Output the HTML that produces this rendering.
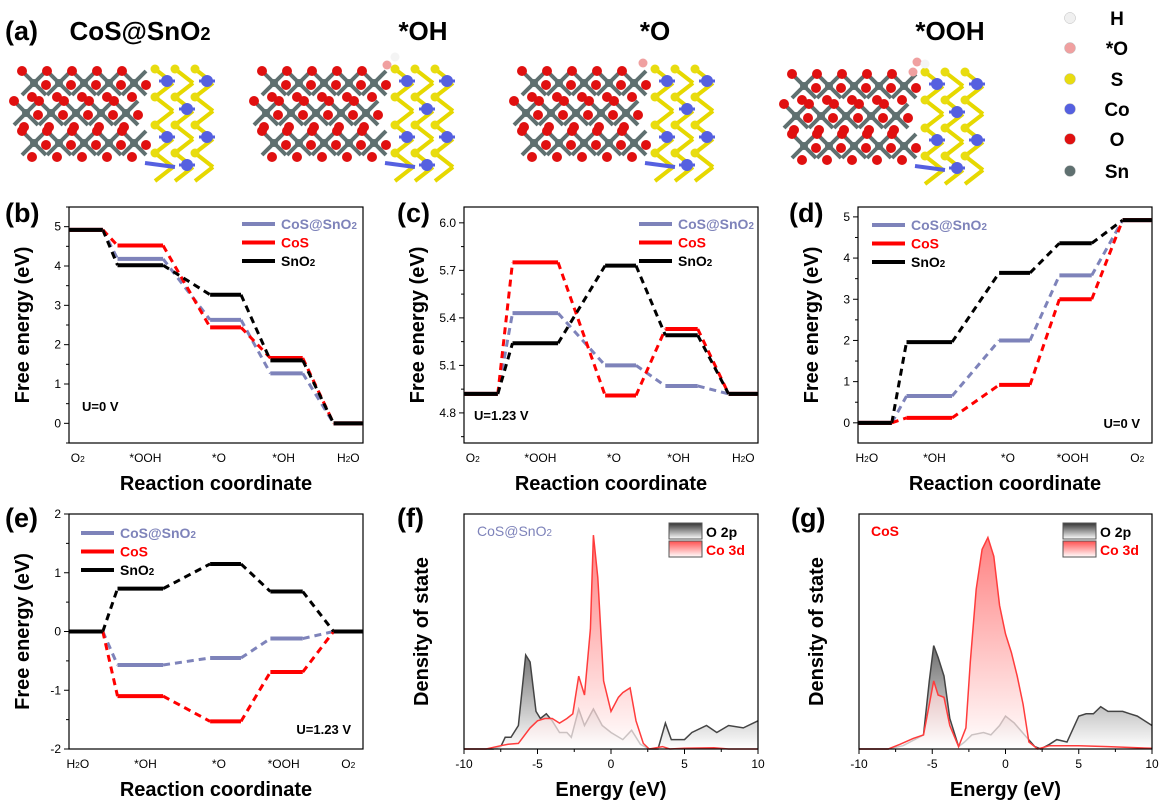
<!DOCTYPE html>
<html><head><meta charset="utf-8">
<style>
html,body{margin:0;padding:0;background:#fff;}
svg{display:block;font-family:"Liberation Sans",Arial,sans-serif;}
</style></head>
<body>
<svg id="fig" width="1163" height="802" viewBox="0 0 1163 802" xmlns="http://www.w3.org/2000/svg">
<defs>
<linearGradient id="gO" gradientUnits="userSpaceOnUse" x1="0" y1="600" x2="0" y2="749"><stop offset="0" stop-color="#2a2a2a"/><stop offset="1" stop-color="#ffffff"/></linearGradient>
<linearGradient id="gCo" gradientUnits="userSpaceOnUse" x1="0" y1="530" x2="0" y2="749"><stop offset="0" stop-color="#ff4a4a"/><stop offset="1" stop-color="#ffffff"/></linearGradient>
<linearGradient id="gOs" x1="0" y1="0" x2="0" y2="1"><stop offset="0" stop-color="#333"/><stop offset="1" stop-color="#fff"/></linearGradient>
<linearGradient id="gCos" x1="0" y1="0" x2="0" y2="1"><stop offset="0" stop-color="#ff5050"/><stop offset="1" stop-color="#fff"/></linearGradient>
</defs>
<g id="root"></g>
</svg>
<script>
// ---------- data: free energy diagrams ----------
const catsORR = ["O2","*OOH","*O","*OH","H2O"];
const catsOER = ["H2O","*OH","*O","*OOH","O2"];
const seriesNames = ["CoS@SnO2","CoS","SnO2"];
const b_coss = [4.92,4.18,2.63,1.27,0];
const b_cos  = [4.92,4.52,2.44,1.66,0];
const b_sno2 = [4.92,4.02,3.27,1.60,0];
const c_coss = [4.92,5.43,5.10,4.97,4.92];
const c_cos  = [4.92,5.75,4.91,5.33,4.92];
const c_sno2 = [4.92,5.24,5.73,5.29,4.92];
const d_coss = [0,0.65,2.00,3.58,4.92];
const d_cos  = [0,0.12,0.92,3.00,4.92];
const d_sno2 = [0,1.96,3.64,4.36,4.92];
const e_coss = [0,-0.57,-0.45,-0.12,0];
const e_cos  = [0,-1.10,-1.53,-0.69,0];
const e_sno2 = [0,0.73,1.15,0.68,0];
const ticksB = [0,1,2,3,4,5];
const ticksC = [4.8,5.1,5.4,5.7,6.0];
const ticksE = [-2,-1,0,1,2];
const ticksDOS = [-10,-5,0,5,10];
// ---------- data: DOS ----------
const f_E_O  = [-10,-8,-7.5,-7.2,-6.8,-6.3,-5.8,-5.5,-5.1,-4.8,-4.4,-4.0,-3.5,-3.0,-2.7,-2.2,-1.8,-1.2,-0.6,0,0.8,1.4,2.0,2.6,3.2,3.7,4.1,5,5.5,6.5,7.2,8,9,10];
const f_O2p  = [0,0,1,5,5,10,40,37,16,13,15,12,7,7,5,17,10,17,10,7,4,8,2,0,0,11,4,4,7,10,7,10,9,12];
const f_E_Co = [-10,-8.5,-7.5,-7,-6.3,-5.5,-5.0,-4.5,-4.0,-3.5,-3.0,-2.6,-2.2,-1.8,-1.4,-1.2,-0.9,-0.5,0,0.5,0.8,1.3,1.7,2.2,2.6,3.5,4,5,7,8,10];
const f_Co3d = [0,0,1.4,2,2.4,9,12,13,13,11,13,15,31,23,51,91,73,29,16,22,24,26,12,2.4,0,1,0,0.3,0.5,0,0];
const g_E_O  = [-10,-8,-7,-6.2,-5.6,-5.2,-4.9,-4.6,-4.2,-3.8,-3.2,-2.8,-2.3,-1.5,-1.0,-0.4,0,0.6,1.3,2,2.4,3,3.5,4.2,5,5.5,6,6.5,7,8,8.5,9,10];
const g_O2p  = [0,0,1.4,4,6,29,44,39,31,13,1,3,6,7,6,10,14,11,6,1,0,2,4,3,14,15,15,18,16,16,15,14,10];
const g_E_Co = [-10,-8,-7.2,-6.3,-5.6,-5.2,-4.9,-4.6,-4.2,-3.8,-3.2,-2.7,-2.4,-2.0,-1.6,-1.2,-0.8,-0.4,0,0.4,0.8,1.2,1.6,2.2,3,5,7,10];
const g_Co3d = [0,0,2,4.5,6,19,29,23,22,10,1,9,37,68,85,90,82,61,49,41,31,19,3,0,1.4,1.4,1,0.3];

const NS="http://www.w3.org/2000/svg";
const root=document.getElementById('root');
function mk(tag,attrs,parent){const e=document.createElementNS(NS,tag);for(const k in attrs)e.setAttribute(k,attrs[k]);(parent||root).appendChild(e);return e;}
function txt(s,x,y,size,attrs,parent){const t=mk('text',Object.assign({x:x,y:y,'font-size':size},attrs||{}),parent);t.textContent=s;return t;}
function subTxt(s,x,y,size,attrs,parent){
  const t=mk('text',Object.assign({x:x,y:y,'font-size':size},attrs||{}),parent);
  const parts=s.split(/(2)/);
  parts.forEach(p=>{if(!p)return;const sp=mk('tspan',p==='2'?{'font-size':size*0.7}:{},t);sp.textContent=p;});
  return t;
}
const COL={"CoS@SnO2":"#7e83ba","CoS":"#ff0000","SnO2":"#000000"};

[["(a)",5,40],["(b)",5,222],["(c)",397,222],["(d)",789,222],["(e)",5,527],["(f)",397,527],["(g)",791,527]].forEach(p=>{
  const t=txt(p[0],p[1],p[2],27,{'font-weight':'bold'});
  
  
});
[["CoS@SnO2",140],["*OH",423],["*O",655],["*OOH",950]].forEach(p=>{
  const t=subTxt(p[0],p[1],40,26,{'font-weight':'bold','text-anchor':'middle'});
  
  
});

function structure(ox,oy,ads){
  const g=mk('g',{});
  
  
  const cols=5,rows=3,dx=25,dy=30;
  for(let r=0;r<rows;r++)for(let c=0;c<cols;c++){
    const x=ox+c*dx+(r%2?-4:4),y=oy+r*dy+8;
    mk('line',{x1:x-12,y1:y-12,x2:x+12,y2:y+12,stroke:'#5f7070','stroke-width':4},g);
    mk('line',{x1:x-12,y1:y+12,x2:x+12,y2:y-12,stroke:'#5f7070','stroke-width':4},g);
  }
  for(let r=0;r<rows;r++)for(let c=0;c<cols;c++){
    const x=ox+c*dx+(r%2?-4:4),y=oy+r*dy+8;
    mk('circle',{cx:x-12,cy:y-12,r:5,fill:'#e01010'},g);
    mk('circle',{cx:x+12,cy:y+2,r:5,fill:'#e01010'},g);
    mk('circle',{cx:x-2,cy:y+14,r:5,fill:'#e01010'},g);
    mk('circle',{cx:x,cy:y,r:4,fill:'#5f7070'},g);
  }
  const sx=ox+125;
  for(let r=0;r<4;r++)for(let c=0;c<3;c++){
    const x=sx+c*20,y=oy-6+r*28;
    mk('line',{x1:x,y1:y,x2:x+18,y2:y+14,stroke:'#e6d800','stroke-width':4},g);
    mk('line',{x1:x+18,y1:y+14,x2:x,y2:y+28,stroke:'#e6d800','stroke-width':4},g);
    mk('circle',{cx:x,cy:y,r:4.5,fill:'#e8dc10'},g);
    if((r+c)%2===0){mk('circle',{cx:x+12,cy:y+12,r:6,fill:'#5560e0'},g);
      mk('line',{x1:x+4,y1:y+12,x2:x+20,y2:y+12,stroke:'#5560e0','stroke-width':3},g);}
  }
  mk('line',{x1:sx-10,y1:oy+88,x2:sx+20,y2:oy+92,stroke:'#5560e0','stroke-width':4},g);
  if(ads){ads.forEach(a=>mk('circle',{cx:sx+a[0],cy:oy+a[1],r:4.5,fill:a[2]},g));}
}
structure(30,75,null);
structure(270,75,[[-8,-10,'#f0a0a0'],[0,-18,'#f4f4f4']]);
structure(530,75,[[-12,-12,'#f0a0a0']]);
structure(800,78,[[-12,-6,'#f0a0a0'],[-8,-16,'#f0a0a0'],[0,-14,'#f4f4f4']]);
[["H","#f0f0f0",18],["*O","#f0a0a0",48],["S","#e8dc10",79],["Co","#5560e0",109],["O","#e01010",139],["Sn","#5f7070",171]].forEach(e=>{
  const c=mk('circle',{cx:1070,cy:e[2],r:5.5,fill:e[1],stroke:'#bbb','stroke-width':0.5});
  
  
  const t=txt(e[0],1117,e[2]+7,19,{'font-weight':'bold','text-anchor':'middle'});
  
  
});

const levelFr=[[0,0.115],[0.165,0.32],[0.48,0.585],[0.685,0.795],[0.9,1]];
const catFr=[0.03,0.26,0.51,0.73,0.95];
function energyPanel(id,x0,x1,y0,y1,ymin,ymax,ticks,minor,cats,series,legXY,uTxt,uPos){
  const g=mk('g',{});
  
  
  const X=f=>x0+f*(x1-x0), Y=v=>y1-(v-ymin)/(ymax-ymin)*(y1-y0);
  const box=mk('rect',{x:x0,y:y0,width:x1-x0,height:y1-y0,fill:'none',stroke:'#000','stroke-width':1.2},g);
  
  
  ticks.forEach(t=>{
    mk('line',{x1:x0-5,x2:x0,y1:Y(t),y2:Y(t),stroke:'#000'},g);
    const l=txt(String(t.toFixed(ticks[1]-ticks[0]<1?1:0)),x0-8,Y(t)+4,12,{'text-anchor':'end'},g);
    
    
  });
  minor.forEach(t=>{if(Y(t)>=y0&&Y(t)<=y1)mk('line',{x1:x0-3,x2:x0,y1:Y(t),y2:Y(t),stroke:'#000'},g);});
  cats.forEach((c,i)=>{
    const l=subTxt(c,X(catFr[i]),y1+19,12,{'text-anchor':'middle'},g);
    
    
  });
  seriesNames.forEach((nm,si)=>{
    const vals=series[si], col=COL[nm];
    for(let i=0;i<vals.length-1;i++){
      const ln=mk('line',{x1:X(levelFr[i][1]),y1:Y(vals[i]),x2:X(levelFr[i+1][0]),y2:Y(vals[i+1]),stroke:col,'stroke-width':3,'stroke-dasharray':'7,5'},g);
      
      
    }
  });
  seriesNames.forEach((nm,si)=>{
    const vals=series[si], col=COL[nm];
    vals.forEach((v,i)=>{
      const ln=mk('line',{x1:X(levelFr[i][0]),y1:Y(v),x2:X(levelFr[i][1]),y2:Y(v),stroke:col,'stroke-width':4},g);
      
      
    });
  });
  seriesNames.forEach((nm,si)=>{
    const yy=legXY[1]+si*18.5;
    const ln=mk('line',{x1:legXY[0],x2:legXY[0]+33,y1:yy,y2:yy,stroke:COL[nm],'stroke-width':4},g);
    
    
    const t=subTxt(nm,legXY[0]+39,yy+5,14,{'font-weight':'bold',fill:COL[nm]},g);
    
    
  });
  const u=txt(uTxt,uPos[0],uPos[1],13,{'font-weight':'bold','text-anchor':uPos[2]},g);
  
  
  const yt=txt("Free energy (eV)",0,0,20,{'font-weight':'bold','text-anchor':'middle',transform:`translate(${x0-40},${(y0+y1)/2}) rotate(-90)`},g);
  
  
  const xt=txt("Reaction coordinate",(x0+x1)/2,y1+47,20,{'font-weight':'bold','text-anchor':'middle'},g);
  
  
}
energyPanel('b',69,363,207,443,-0.5,5.5,ticksB,[-0.5,0.5,1.5,2.5,3.5,4.5,5.5],catsORR,[b_coss,b_cos,b_sno2],[242,224],"U=0 V",[82,411,'start']);
energyPanel('c',464,758,207,443,4.61,6.10,ticksC,[4.65,4.95,5.25,5.55,5.85],catsORR,[c_coss,c_cos,c_sno2],[639,224],"U=1.23 V",[474,420,'start']);
energyPanel('d',858,1152,207,443,-0.49,5.24,ticksB,[0.5,1.5,2.5,3.5,4.5],catsOER,[d_coss,d_cos,d_sno2],[872,225],"U=0 V",[1140,428,'end']);
energyPanel('e',69,363,514,749,-2,2,ticksE,[-1.5,-0.5,0.5,1.5],catsOER,[e_coss,e_cos,e_sno2],[81,533],"U=1.23 V",[351,734,'end']);

function dosPanel(id,x0,x1,y0,y1,EO,O,ECo,Co,label,labCol,labX){
  const g=mk('g',{});
  
  
  const X=e=>x0+(e+10)/20*(x1-x0), Y=v=>y1-v/100*(y1-y0);
  function pathOf(E,V){return E.map((e,i)=>(i?'L':'M')+X(e).toFixed(1)+','+Y(V[i]).toFixed(1)).join('');}
  const fO=mk('path',{d:pathOf(EO,O)+`L${X(10)},${y1}L${X(-10)},${y1}Z`,fill:'url(#gO)'},g);
  
  
  const lO=mk('path',{d:pathOf(EO,O),fill:'none',stroke:'#444','stroke-width':1.5},g);
  
  
  const fC=mk('path',{d:pathOf(ECo,Co)+`L${X(10)},${y1}L${X(-10)},${y1}Z`,fill:'url(#gCo)','fill-opacity':0.72},g);
  
  
  const lC=mk('path',{d:pathOf(ECo,Co),fill:'none',stroke:'#ff3c3c','stroke-width':1.5},g);
  
  
  const box=mk('rect',{x:x0,y:y0,width:x1-x0,height:y1-y0,fill:'none',stroke:'#000','stroke-width':1.2},g);
  
  
  ticksDOS.forEach(t=>{
    mk('line',{x1:X(t),x2:X(t),y1:y1,y2:y1+5,stroke:'#000'},g);
    if(t<10)mk('line',{x1:X(t+2.5),x2:X(t+2.5),y1:y1,y2:y1+3,stroke:'#000'},g);
    const l=txt(String(t),X(t),y1+19,12,{'text-anchor':'middle'},g);
    
    
  });
  const sx=x1-89;
  const s1=mk('rect',{x:sx,y:y0+9,width:33,height:16,fill:'url(#gOs)',stroke:'#555'},g);
  
  
  const s2=mk('rect',{x:sx,y:y0+27,width:33,height:16,fill:'url(#gCos)',stroke:'#555'},g);
  
  
  const t1=txt("O 2p",sx+37,y0+23,14,{'font-weight':'bold'},g);
  
  
  const t2=txt("Co 3d",sx+37,y0+41,14,{'font-weight':'bold',fill:'#ff0000'},g);
  
  
  const lab=subTxt(label,labX,y0+22,14,{fill:labCol,'font-weight':id==='g'?'bold':'normal'},g);
  
  
  const yt=txt("Density of state",0,0,20,{'font-weight':'bold','text-anchor':'middle',transform:`translate(${x0-36},${(y0+y1)/2}) rotate(-90)`},g);
  
  
  const xt=txt("Energy (eV)",(x0+x1)/2,y1+47,20,{'font-weight':'bold','text-anchor':'middle'},g);
  
  
}
dosPanel('f',464,758,514,749,f_E_O,f_O2p,f_E_Co,f_Co3d,"CoS@SnO2","#7e83ba",477);
dosPanel('g',859,1152,514,749,g_E_O,g_O2p,g_E_Co,g_Co3d,"CoS","#ff0000",871);
</script>
</body></html>
